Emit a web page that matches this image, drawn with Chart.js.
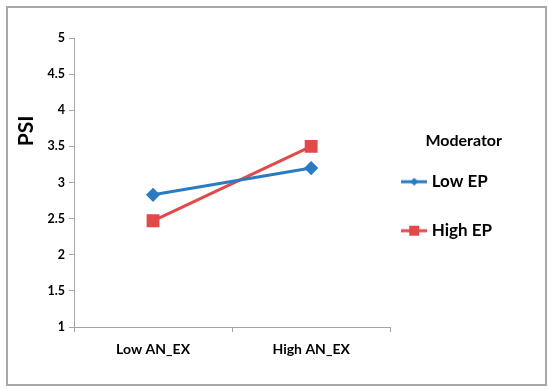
<!DOCTYPE html>
<html>
<head>
<meta charset="utf-8">
<script src="https://cdn.jsdelivr.net/npm/chart.js@4"></script>
<style>
  body { margin: 0; background: #fff; }
  #box { position: absolute; left: 6px; top: 6px; width: 537px; height: 376px; border: 2px solid #a8a8a8; }
</style>
</head>
<body>
<div id="box"><canvas id="chart" width="537" height="376"></canvas></div>
<script>
const categories = ['Low AN_EX', 'High AN_EX'];
const lowEP = [2.83, 3.2];
const highEP = [2.47, 3.5];
const yTicks = [1, 1.5, 2, 2.5, 3, 3.5, 4, 4.5, 5];

const blue = '#2b7bc1';
const red = '#e24a4a';
const font = 'Lato';

// small line+marker swatches for the legend
function swatch(color, shape) {
    const c = document.createElement('canvas');
    c.width = 26; c.height = 12;
    const g = c.getContext('2d');
    g.strokeStyle = color; g.lineWidth = 3;
    g.beginPath(); g.moveTo(0, 6); g.lineTo(26, 6); g.stroke();
    g.fillStyle = color;
    if (shape === 'diamond') {
        g.beginPath(); g.moveTo(13, 2); g.lineTo(17, 6); g.lineTo(13, 10); g.lineTo(9, 6); g.closePath(); g.fill();
    } else {
        g.fillRect(8, 1, 10, 10);
    }
    return c;
}
const swatches = [swatch(blue, 'diamond'), swatch(red, 'square')];

const psiTitle = {
    id: 'psiTitle',
    afterDraw(chart) {
        const ctx = chart.ctx;
        ctx.save();
        ctx.translate(18, 123);
        ctx.rotate(-Math.PI / 2);
        ctx.font = 'bold 21px ' + font;
        ctx.fillStyle = '#000';
        ctx.textAlign = 'center';
        ctx.textBaseline = 'middle';
        ctx.fillText('PSI', 0, 0);
        ctx.restore();
    }
};

new Chart(document.getElementById('chart'), {
    type: 'line',
    data: {
        labels: categories,
        datasets: [{
            label: 'Low EP',
            data: lowEP,
            borderColor: blue,
            backgroundColor: blue,
            borderWidth: 3,
            pointStyle: 'rectRot',
            pointRadius: 5,
            tension: 0
        }, {
            label: 'High EP',
            data: highEP,
            borderColor: red,
            backgroundColor: red,
            borderWidth: 3,
            pointStyle: 'rect',
            pointRadius: 7,
            tension: 0
        }]
    },
    options: {
        responsive: false,
        animation: false,
        layout: { padding: { top: 30, left: 0, right: 43, bottom: 0 } },
        plugins: {
            tooltip: { enabled: false },
            legend: {
                position: 'right',
                align: 'start',
                title: {
                    display: true, text: 'Moderator', color: '#000', position: 'end',
                    font: { family: font, size: 16, weight: 'bold' },
                    padding: { top: 95, bottom: 6 }
                },
                labels: {
                    usePointStyle: true,
                    pointStyleWidth: 18,
                    color: '#000',
                    font: { family: font, size: 17, weight: 'bold', lineHeight: 1 },
                    padding: 15,
                    // two-line text (second empty) to get the wide gap between items
                    generateLabels: chart => chart.data.datasets.map((ds, i) => ({
                        text: [ds.label, ''],
                        pointStyle: swatches[i],
                        fillStyle: ds.borderColor,
                        strokeStyle: ds.borderColor,
                        lineWidth: 0,
                        hidden: false,
                        datasetIndex: i
                    }))
                }
            }
        },
        scales: {
            x: {
                offset: true,
                grid: { display: true, drawOnChartArea: false, offset: true, tickLength: 5, color: '#a6a6a6' },
                border: { color: '#a6a6a6', width: 1 },
                ticks: { color: '#000', font: { family: font, size: 14, weight: 'bold' }, padding: 9 },
                afterFit: s => { s.height = 57; }
            },
            y: {
                min: 1,
                max: 5,
                afterBuildTicks: s => { s.ticks = yTicks.map(v => ({ value: v })); },
                grid: { display: true, drawOnChartArea: false, tickLength: 5, color: '#a6a6a6' },
                border: { color: '#a6a6a6', width: 1 },
                ticks: { color: '#000', font: { family: font, size: 12.5, weight: 'bold' }, padding: 4, callback: v => String(v) },
                afterFit: s => { s.width = 66; }
            }
        }
    },
    plugins: [psiTitle]
});
</script>
</body>
</html>
